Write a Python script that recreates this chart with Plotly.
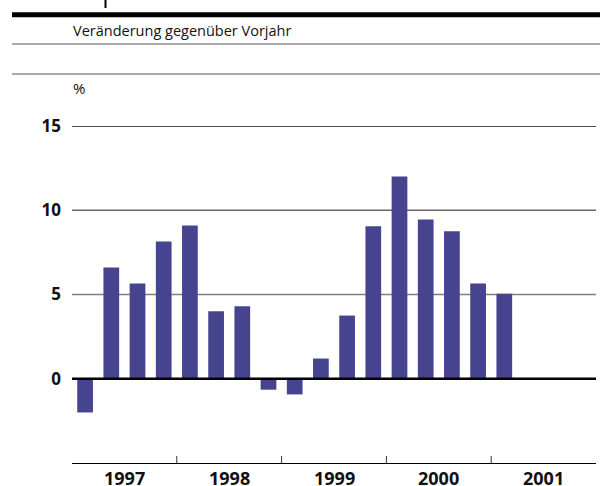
import plotly.graph_objects as go

quarters = ["1997 Q1", "1997 Q2", "1997 Q3", "1997 Q4",
            "1998 Q1", "1998 Q2", "1998 Q3", "1998 Q4",
            "1999 Q1", "1999 Q2", "1999 Q3", "1999 Q4",
            "2000 Q1", "2000 Q2", "2000 Q3", "2000 Q4",
            "2001 Q1"]
values = [-2.0, 6.6, 5.65, 8.15, 9.1, 4.0, 4.3, -0.65, -0.93, 1.2, 3.75,
          9.05, 12.0, 9.45, 8.75, 5.65, 5.05]
years = ["1997", "1998", "1999", "2000", "2001"]
subtitle = "Veränderung gegenüber Vorjahr"
unit = "%"

W, H = 600, 486
L, R, T, B = 72, 4, 126, 23
FONT = "Open Sans"

def px(x):
    return (x - L) / (W - L - R)

def py(y):
    return (H - B - y) / (H - T - B)

xpos = list(range(len(values)))
year_centers = [i * 4 + 1.5 for i in range(len(years))]
year_ticks = [i * 4 + 3.5 for i in range(len(years) - 1)]

fig = go.Figure()
fig.add_trace(go.Bar(x=xpos, y=values, marker=dict(color="#46448f", line=dict(width=0)),
                     width=0.6, hovertext=quarters, showlegend=False))

shapes = [
    dict(type="line", xref="paper", yref="paper", x0=px(12), x1=px(600), y0=py(14.7), y1=py(14.7),
         line=dict(color="black", width=5)),
    dict(type="line", xref="paper", yref="paper", x0=px(12), x1=px(600), y0=py(44), y1=py(44),
         line=dict(color="#555", width=1)),
    dict(type="line", xref="paper", yref="paper", x0=px(12), x1=px(600), y0=py(74), y1=py(74),
         line=dict(color="#555", width=1)),
    dict(type="line", xref="paper", yref="paper", x0=px(105.5), x1=px(105.5), y0=py(0), y1=py(8),
         line=dict(color="black", width=2)),
    dict(type="line", xref="paper", yref="y", x0=0, x1=1, y0=15, y1=15,
         line=dict(color="#111", width=1.5), layer="below"),
    dict(type="line", xref="paper", yref="y", x0=0, x1=1, y0=10, y1=10,
         line=dict(color="#666", width=1.5), layer="below"),
    dict(type="line", xref="paper", yref="y", x0=0, x1=1, y0=5, y1=5,
         line=dict(color="#808080", width=1.5), layer="below"),
    dict(type="line", xref="paper", yref="y", x0=0, x1=1, y0=0, y1=0,
         line=dict(color="black", width=2.5), layer="above"),
]
for t in year_ticks:
    shapes.append(dict(type="line", xref="x", yref="paper", x0=t, x1=t, y0=0, y1=py(456),
                       line=dict(color="#333", width=1)))

annotations = [
    dict(text=subtitle, xref="paper", yref="paper", x=px(71), y=py(31), xanchor="left",
         yanchor="middle", showarrow=False, font=dict(family=FONT, size=14.5, color="#111")),
    dict(text=unit, xref="paper", yref="paper", x=px(71), y=py(88), xanchor="left",
         yanchor="middle", showarrow=False, font=dict(family=FONT, size=15, color="#111")),
]
for xc, yr in zip(year_centers, years):
    annotations.append(dict(text=f"<b>{yr}</b>", xref="x", yref="paper", x=xc, y=py(477.5),
                            xanchor="center", yanchor="middle", showarrow=False, borderpad=0,
                            font=dict(family=FONT, size=18, color="#111")))

fig.update_layout(
    width=W, height=H,
    margin=dict(l=L, r=R, t=T, b=B, pad=0, autoexpand=False),
    paper_bgcolor="white", plot_bgcolor="white",
    font=dict(family=FONT, color="#111"),
    bargap=0.4,
    shapes=shapes, annotations=annotations,
    xaxis=dict(range=[-0.5, 19.5], showticklabels=False,
               ticks="", showgrid=False, zeroline=False, showline=True, linecolor="black",
               linewidth=1, automargin=False),
    yaxis=dict(range=[-5, 15], tickvals=[0, 5, 10, 15],
               ticktext=["<b>0</b>", "<b>5</b>", "<b>10</b>", "<b>15</b>"],
               showgrid=False, zeroline=False, showline=False, ticks="", automargin=False,
               tickfont=dict(family=FONT, size=17, color="#111"), ticklabelstandoff=10),
)

fig.write_html("out.html", config={"displayModeBar": False},
               post_script="document.body.style.margin='0';")
